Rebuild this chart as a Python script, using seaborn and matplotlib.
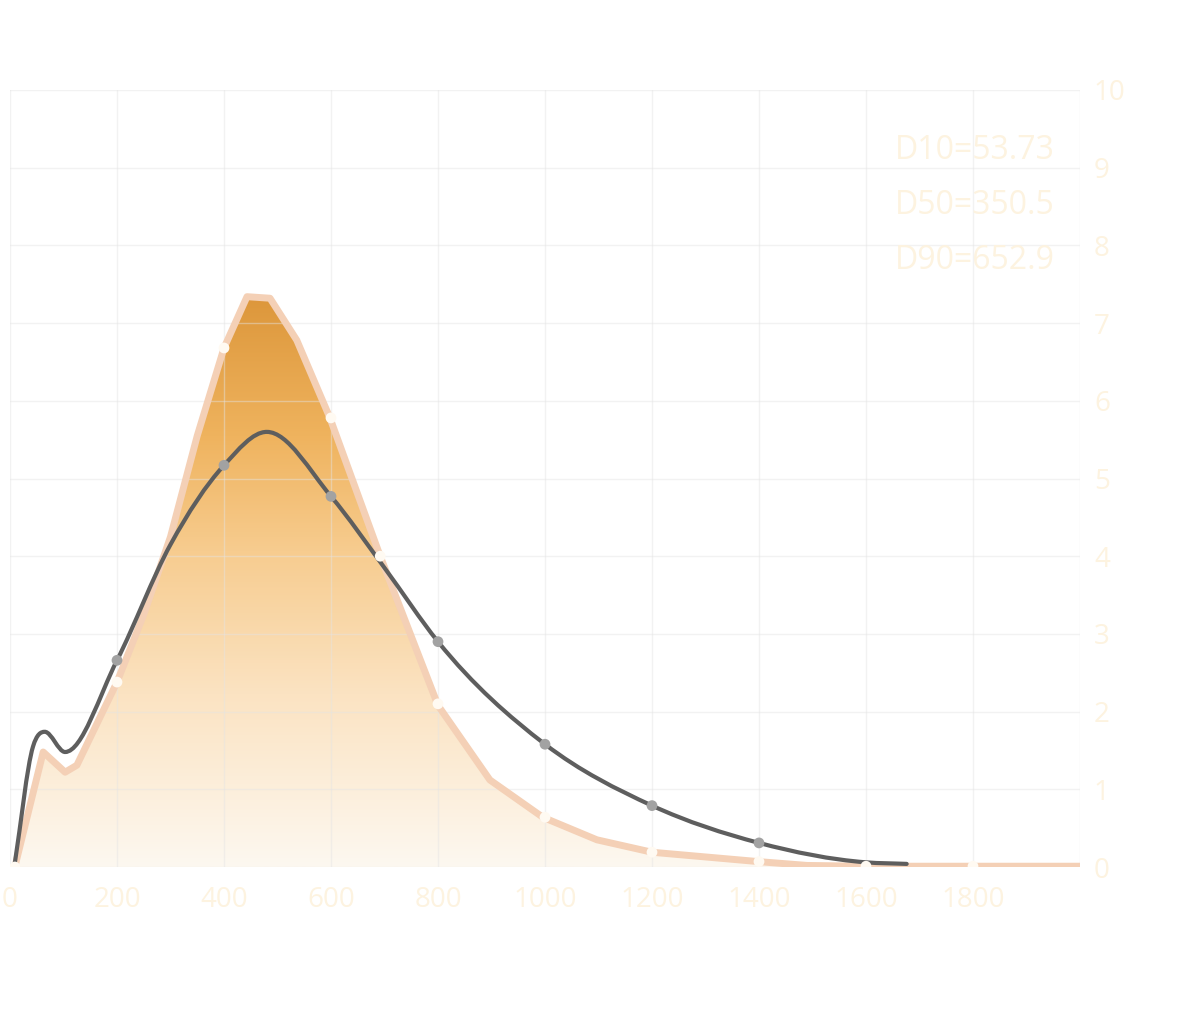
import numpy as np
import pandas as pd
import matplotlib
matplotlib.use("Agg")
import matplotlib.pyplot as plt
import seaborn as sns
from matplotlib.path import Path
from matplotlib.patches import PathPatch
from matplotlib.colors import LinearSegmentedColormap

# measured distribution (orange area)
area_x = [9, 62, 103, 125, 200, 250, 300, 350, 400, 443, 486, 536, 598, 692, 800, 897, 996, 1097, 1200, 1398, 1490, 1600, 2000]
area_y = [0.0, 1.48, 1.22, 1.31, 2.38, 3.25, 4.25, 5.55, 6.68, 7.34, 7.32, 6.78, 5.78, 4.0, 2.08, 1.12, 0.64, 0.35, 0.19, 0.07, 0.02, 0.01, 0.01]
area_mark_x = [9, 200, 400, 600, 692, 800, 1000, 1200, 1400, 1600, 1800]
area_mark_y = [0.0, 2.38, 6.68, 5.78, 4.0, 2.1, 0.64, 0.19, 0.07, 0.01, 0.01]

# fitted curve (grey line)
fit_x = [9, 43, 65, 103, 200, 300, 400, 480, 600, 700, 800, 1000, 1200, 1400, 1600, 1676]
fit_y = [0.05, 1.55, 1.74, 1.48, 2.66, 4.15, 5.17, 5.6, 4.77, 3.85, 2.9, 1.58, 0.79, 0.31, 0.06, 0.04]
fit_mark_x = [200, 400, 600, 800, 1000, 1200, 1400]
fit_mark_y = [2.66, 5.17, 4.77, 2.9, 1.58, 0.79, 0.31]

x_ticks = [0, 200, 400, 600, 800, 1000, 1200, 1400, 1600, 1800]
y_ticks = list(range(0, 11))
stats_text = ["D10=53.73", "D50=350.5", "D90=652.9"]

label_col = "#fdf3e0"

sns.set_theme(style="white")
plt.rcParams["font.family"] = ["Open Sans", "DejaVu Sans"]

fig = plt.figure(figsize=(12, 10.09), dpi=100)
ax = fig.add_axes([10 / 1200, 1 - 867 / 1009, 1070 / 1200, 777 / 1009])

area = pd.DataFrame({"x": area_x, "y": area_y})
fit = pd.DataFrame({"x": fit_x, "y": fit_y})

# gradient fill clipped to area
poly = ax.fill_between(area["x"], area["y"], 0, color="none", lw=0)
cmap = LinearSegmentedColormap.from_list(
    "grad", [(0, "#fdf8f0"), (0.3, "#fbe3c2"), (0.55, "#f7cc8f"), (0.75, "#efb35e"), (1, "#dc963a")])
grad = np.linspace(0, 1, 256).reshape(-1, 1)
img = ax.imshow(grad, cmap=cmap, origin="lower", aspect="auto",
                extent=[0, 2000, 0, 7.4], zorder=1)
img.set_clip_path(poly.get_paths()[0], transform=ax.transData)

sns.lineplot(data=area, x="x", y="y", ax=ax, color="#f4d0b6", lw=5, zorder=3,
             solid_joinstyle="round", solid_capstyle="round")

# smooth grey curve (cubic hermite in x)
xs = fit["x"].to_numpy(dtype=float)
ys = fit["y"].to_numpy(dtype=float)
n = len(xs)
m = np.zeros(n)
for i in range(n):
    if i == 0:
        m[i] = (ys[1] - ys[0]) / (xs[1] - xs[0])
    elif i == n - 1:
        m[i] = (ys[-1] - ys[-2]) / (xs[-1] - xs[-2])
    else:
        d0 = (ys[i] - ys[i - 1]) / (xs[i] - xs[i - 1])
        d1 = (ys[i + 1] - ys[i]) / (xs[i + 1] - xs[i])
        m[i] = 0.0 if d0 * d1 <= 0 else (d0 * (xs[i + 1] - xs[i]) + d1 * (xs[i] - xs[i - 1])) / (xs[i + 1] - xs[i - 1])
verts = [(xs[0], ys[0])]
codes = [Path.MOVETO]
for i in range(n - 1):
    h = xs[i + 1] - xs[i]
    verts += [(xs[i] + h / 3, ys[i] + m[i] * h / 3),
              (xs[i + 1] - h / 3, ys[i + 1] - m[i + 1] * h / 3),
              (xs[i + 1], ys[i + 1])]
    codes += [Path.CURVE4] * 3
ax.add_patch(PathPatch(Path(verts, codes), fill=False, edgecolor="#5e5e5e", lw=3.0,
                       zorder=4, capstyle="round"))

sns.scatterplot(x=fit_mark_x, y=fit_mark_y, ax=ax, color="#a2a2a2", s=60, edgecolor="none", zorder=5)
sns.scatterplot(x=area_mark_x, y=area_mark_y, ax=ax, color="#fffaf2", s=60, edgecolor="none", zorder=6)

ax.set_xlim(0, 2000)
ax.set_ylim(0, 10)
ax.set_xticks(x_ticks)
ax.set_yticks(y_ticks)
ax.set_xticks(range(0, 2001, 200), minor=True)
ax.yaxis.tick_right()
ax.set_xlabel("")
ax.set_ylabel("")
ax.tick_params(axis="x", length=0, pad=14, labelsize=20, labelcolor=label_col)
ax.tick_params(axis="y", length=0, pad=10, labelsize=20, labelcolor=label_col)
for lab in ax.get_yticklabels():
    lab.set_horizontalalignment("left")
ax.grid(True, which="both", color="#e4e4e4", alpha=0.45, lw=1)
ax.set_axisbelow(False)
for g in ax.get_xgridlines() + ax.get_ygridlines():
    g.set_zorder(2)
for s in ax.spines.values():
    s.set_visible(False)

for txt, yy in zip(stats_text, [9.22, 8.51, 7.81]):
    ax.text(1654, yy, txt, fontsize=23, color=label_col, va="center", ha="left", zorder=7)

fig.savefig("out.png", dpi=100, facecolor="white")
